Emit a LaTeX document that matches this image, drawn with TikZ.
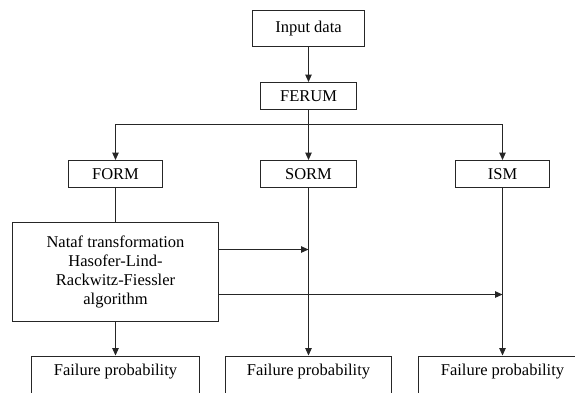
\documentclass[tikz,border=0pt]{standalone}
\usepackage{fontspec}
\setmainfont{Liberation Serif}
\usetikzlibrary{arrows.meta}
\begin{document}
\begin{tikzpicture}[x=1pt,y=-1pt,
  every node/.style={font=\fontsize{16.5}{18.7}\selectfont},
  box/.style={draw=black!85, line width=1pt, rectangle, inner sep=0pt, align=center},
  openbox/.style={box, anchor=north, inner ysep=4pt, text height=15pt, text depth=40pt},
  conn/.style={draw=black!85, line width=1pt},
  arr/.style={conn, -{Triangle[length=7.5pt,width=6.5pt]}}]
\useasboundingbox (0,0) rectangle (575,392);
\clip (0,0) rectangle (575,392);
\fill[white] (0,0) rectangle (575,392);
\node[box, minimum width=112pt, minimum height=36pt] (input) at (308.5,28.5) {Input data};
\node[box, minimum width=96pt, minimum height=27pt] (ferum) at (308.5,96) {FERUM};
\node[box, minimum width=94pt, minimum height=27pt] (form) at (115.5,174) {FORM};
\node[box, minimum width=96pt, minimum height=27pt] (sorm) at (308.5,174) {SORM};
\node[box, minimum width=94pt, minimum height=27pt] (ism) at (502.5,174) {ISM};
\node[box, minimum width=206pt, minimum height=99pt] (nataf) at (115.5,272) {Nataf transformation\\Hasofer-Lind-\\Rackwitz-Fiessler\\algorithm};
\node[openbox, minimum width=168pt] (f1) at (115.5,355.5) {Failure probability};
\node[openbox, minimum width=166pt] (f2) at (308.5,355.5) {Failure probability};
\node[openbox, minimum width=168pt] (f3) at (502.5,355.5) {Failure probability};
\coordinate (bus) at (308.5,124.5);
\coordinate (j1) at (308.5,249.5);
\coordinate (j2) at (502.5,294.5);
\draw[arr] (input) -- (ferum);
\draw[conn] (ferum.south) -- (bus);
\draw[arr] (bus) -| (form.north);
\draw[arr] (bus) -- (sorm.north);
\draw[arr] (bus) -| (ism.north);
\draw[conn] (form.south) -- (form.south |- nataf.north);
\draw[arr] (nataf.south) -- (f1.north);
\draw[arr] (sorm.south) -- (sorm.south |- f2.north);
\draw[arr] (ism.south) -- (ism.south |- f3.north);
\draw[arr] (nataf.east |- j1) -- (j1);
\draw[arr] (nataf.east |- j2) -- (j2);
\end{tikzpicture}
\end{document}
